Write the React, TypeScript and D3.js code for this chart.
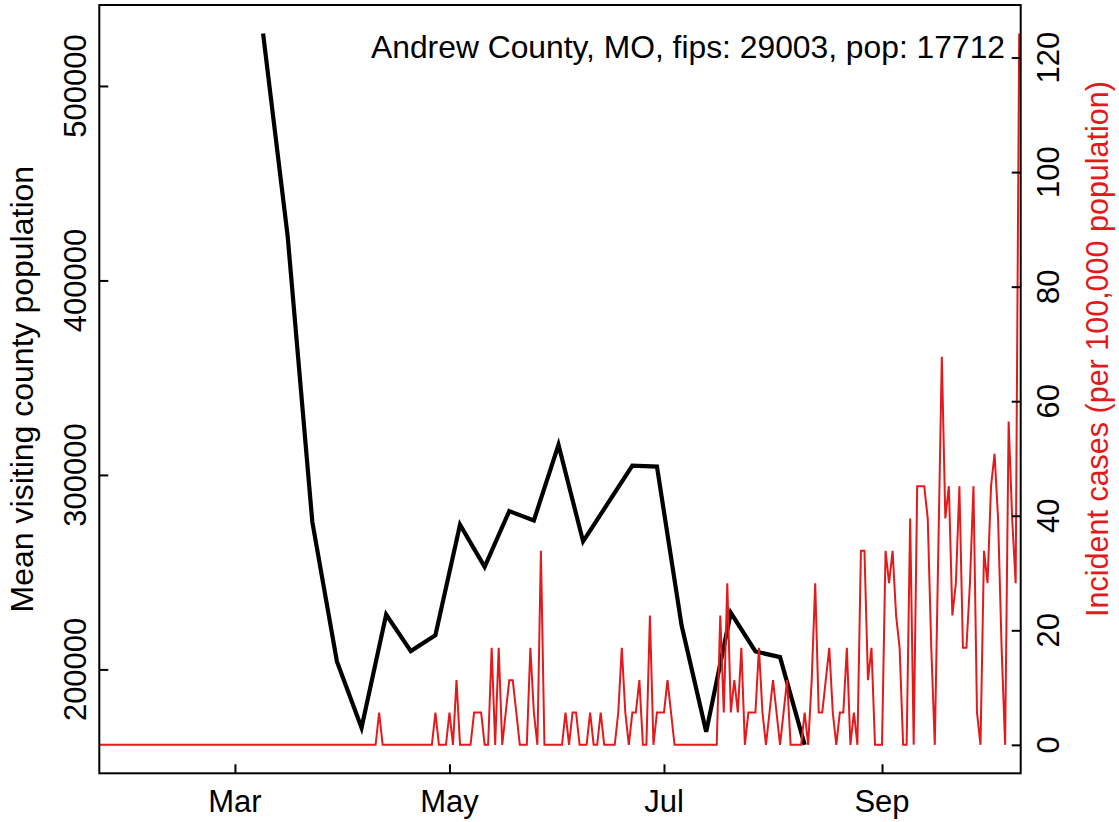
import React, { useRef, useEffect } from 'react';
import * as d3 from 'd3';

const countyLabel = 'Andrew County, MO, fips: 29003, pop: 17712';
const countyPop = 17712;

// daily new cases, one value per day from caseStart
const caseStart = '2020-01-22';
const dailyCases = [
  0, 0, 0, 0, 0, 0, 0, 0, 0, 0,
  0, 0, 0, 0, 0, 0, 0, 0, 0, 0,
  0, 0, 0, 0, 0, 0, 0, 0, 0, 0,
  0, 0, 0, 0, 0, 0, 0, 0, 0, 0,
  0, 0, 0, 0, 0, 0, 0, 0, 0, 0,
  0, 0, 0, 0, 0, 0, 0, 0, 0, 0,
  0, 0, 0, 0, 0, 0, 0, 0, 0, 0,
  0, 0, 0, 0, 0, 0, 0, 0, 0, 0,
  1, 0, 0, 0, 0, 0, 0, 0, 0, 0,
  0, 0, 0, 0, 0, 0, 1, 0, 0, 0,
  1, 0, 2, 0, 0, 0, 0, 1, 1, 1,
  0, 0, 3, 0, 3, 0, 1, 2, 2, 1,
  0, 0, 0, 3, 1, 0, 6, 0, 0, 0,
  0, 0, 0, 1, 0, 1, 1, 0, 0, 0,
  1, 0, 0, 1, 0, 0, 0, 0, 1, 3,
  1, 0, 1, 1, 2, 0, 0, 4, 0, 1,
  1, 1, 2, 1, 0, 0, 0, 0, 0, 0,
  0, 0, 0, 0, 0, 0, 0, 4, 1, 5,
  1, 2, 1, 3, 0, 1, 1, 1, 3, 1,
  0, 1, 2, 1, 0, 1, 2, 0, 0, 0,
  0, 1, 0, 2, 5, 1, 1, 2, 3, 1,
  0, 1, 1, 3, 0, 1, 0, 6, 6, 2,
  3, 0, 0, 0, 6, 5, 6, 4, 3, 0,
  0, 7, 0, 8, 8, 8, 7, 3, 0, 6,
  12, 7, 8, 4, 5, 8, 3, 3, 5, 8,
  1, 0, 6, 5, 8, 9, 7, 3, 0, 10,
  7, 5, 22,
];

// weekly mean visiting county population
const visitDates = [
  '2020-03-09', '2020-03-16', '2020-03-23', '2020-03-30', '2020-04-06',
  '2020-04-13', '2020-04-20', '2020-04-27', '2020-05-04', '2020-05-11',
  '2020-05-18', '2020-05-25', '2020-06-01', '2020-06-08', '2020-06-22',
  '2020-06-29', '2020-07-06', '2020-07-13', '2020-07-20', '2020-07-27',
  '2020-08-03', '2020-08-10',
];
const visitMeans = [
  527000, 422600, 275900, 204100, 170000,
  228200, 209400, 217600, 274400, 252700,
  281400, 276600, 315500, 265800, 304800,
  304300, 222700, 167900, 229100, 209200,
  206300, 161200,
];

const monthTicks = ['2020-03-01', '2020-05-01', '2020-07-01', '2020-09-01'];
const monthLabels = ['Mar', 'May', 'Jul', 'Sep'];
const leftTicks = [200000, 300000, 400000, 500000];
const rightTicks = [0, 20, 40, 60, 80, 100, 120];

const FONT = '"Liberation Sans", Arial, Helvetica, sans-serif';
const RED = '#e31a1c';

const App: React.FC = () => {
  const svgRef = useRef<SVGSVGElement>(null);
  const width = 1119;
  const height = 822;

  useEffect(() => {
    if (!svgRef.current) return;
    const svg = d3.select(svgRef.current);
    svg.selectAll('*').remove();

    const margin = { top: 5, right: 98.3, bottom: 48.7, left: 99.3 };
    const innerWidth = width - margin.left - margin.right;
    const innerHeight = height - margin.top - margin.bottom;

    const day0 = new Date(caseStart + 'T00:00:00Z');
    const cases = dailyCases.map((c, i) => ({
      date: d3.utcDay.offset(day0, i),
      value: (c / countyPop) * 100000,
    }));
    const visits = visitDates.map((d, i) => ({
      date: new Date(d + 'T00:00:00Z'),
      value: visitMeans[i],
    }));

    // x range runs a little past the first/last day, as in the original plot
    const x = d3
      .scaleUtc()
      .domain([
        new Date(Date.UTC(2020, 0, 22, 10, 20)),
        new Date(Date.UTC(2020, 9, 10, 10, 20)),
      ])
      .range([0, innerWidth]);

    // R-style 4% padding on the data range
    const pad = (lo: number, hi: number) => {
      const d = (hi - lo) * 0.04;
      return [lo - d, hi + d];
    };
    const [vMin, vMax] = d3.extent(visitMeans) as [number, number];
    const yLeft = d3.scaleLinear().domain(pad(vMin, vMax)).range([innerHeight, 0]);
    const cMax = d3.max(cases, (d) => d.value) || 0;
    const yRight = d3.scaleLinear().domain(pad(0, cMax)).range([innerHeight, 0]);

    const g = svg
      .append('g')
      .attr('transform', `translate(${margin.left},${margin.top})`);

    svg
      .append('defs')
      .append('clipPath')
      .attr('id', 'plot-clip')
      .append('rect')
      .attr('width', innerWidth)
      .attr('height', innerHeight);

    // black line
    const visitLine = d3
      .line<{ date: Date; value: number }>()
      .x((d) => x(d.date))
      .y((d) => yLeft(d.value));
    g.append('path')
      .datum(visits)
      .attr('clip-path', 'url(#plot-clip)')
      .attr('fill', 'none')
      .attr('stroke', '#000')
      .attr('stroke-width', 4.2)
      .attr('stroke-linejoin', 'miter')
      .attr('d', visitLine);

    // red line
    const caseLine = d3
      .line<{ date: Date; value: number }>()
      .x((d) => x(d.date))
      .y((d) => yRight(d.value));
    g.append('path')
      .datum(cases)
      .attr('clip-path', 'url(#plot-clip)')
      .attr('fill', 'none')
      .attr('stroke', RED)
      .attr('stroke-width', 2)
      .attr('d', caseLine);

    // ticks point into the plot
    const tickLen = 9;
    const bottomAxis = g
      .append('g')
      .attr('transform', `translate(0,${innerHeight})`)
      .call(
        d3
          .axisBottom(x)
          .tickValues(monthTicks.map((d) => new Date(d + 'T00:00:00Z')))
          .tickSize(-tickLen)
          .tickFormat(() => '')
      );
    bottomAxis.select('.domain').remove();

    const leftAxis = g.append('g').call(
      d3.axisLeft(yLeft).tickValues(leftTicks).tickSize(-tickLen).tickFormat(() => '')
    );
    leftAxis.select('.domain').remove();

    const rightAxis = g
      .append('g')
      .attr('transform', `translate(${innerWidth},0)`)
      .call(
        d3.axisRight(yRight).tickValues(rightTicks).tickSize(-tickLen).tickFormat(() => '')
      );
    rightAxis.select('.domain').remove();

    g.selectAll('.tick line').attr('stroke', '#000').attr('stroke-width', 2);

    // box
    g.append('rect')
      .attr('width', innerWidth)
      .attr('height', innerHeight)
      .attr('fill', 'none')
      .attr('stroke', '#000')
      .attr('stroke-width', 2);

    const fontSize = 31;

    // month labels
    g.selectAll('.mlab')
      .data(monthTicks)
      .enter()
      .append('text')
      .attr('x', (d) => x(new Date(d + 'T00:00:00Z')))
      .attr('y', innerHeight + 39)
      .attr('text-anchor', 'middle')
      .attr('font-family', FONT)
      .attr('font-size', fontSize)
      .text((d, i) => monthLabels[i]);

    // left tick labels (rotated)
    g.selectAll('.llab')
      .data(leftTicks)
      .enter()
      .append('text')
      .attr('transform', (d) => `translate(-13,${yLeft(d)}) rotate(-90)`)
      .attr('text-anchor', 'middle')
      .attr('font-family', FONT)
      .attr('font-size', fontSize)
      .text((d) => String(d));

    // right tick labels (rotated)
    g.selectAll('.rlab')
      .data(rightTicks)
      .enter()
      .append('text')
      .attr('transform', (d) => `translate(${innerWidth + 38},${yRight(d)}) rotate(-90)`)
      .attr('text-anchor', 'middle')
      .attr('font-family', FONT)
      .attr('font-size', fontSize)
      .text((d) => String(d));

    // axis titles
    svg
      .append('text')
      .attr('transform', `translate(33,${margin.top + innerHeight / 2}) rotate(-90)`)
      .attr('text-anchor', 'middle')
      .attr('font-family', FONT)
      .attr('font-size', 32)
      .text('Mean visiting county population');

    svg
      .append('text')
      .attr('transform', `translate(1108,349) rotate(-90)`)
      .attr('text-anchor', 'middle')
      .attr('font-family', FONT)
      .attr('font-size', 30.5)
      .attr('fill', RED)
      .text('Incident cases (per 100,000 population)');

    // county label, top right
    svg
      .append('text')
      .attr('x', 1005)
      .attr('y', 58)
      .attr('text-anchor', 'end')
      .attr('font-family', FONT)
      .attr('font-size', 31.8)
      .text(countyLabel);
  }, []);

  return (
    <div style={{ position: 'absolute', left: 0, top: 0 }}>
      <svg ref={svgRef} width={width} height={height} style={{ display: 'block', background: '#fff' }} />
    </div>
  );
};

export default App;
